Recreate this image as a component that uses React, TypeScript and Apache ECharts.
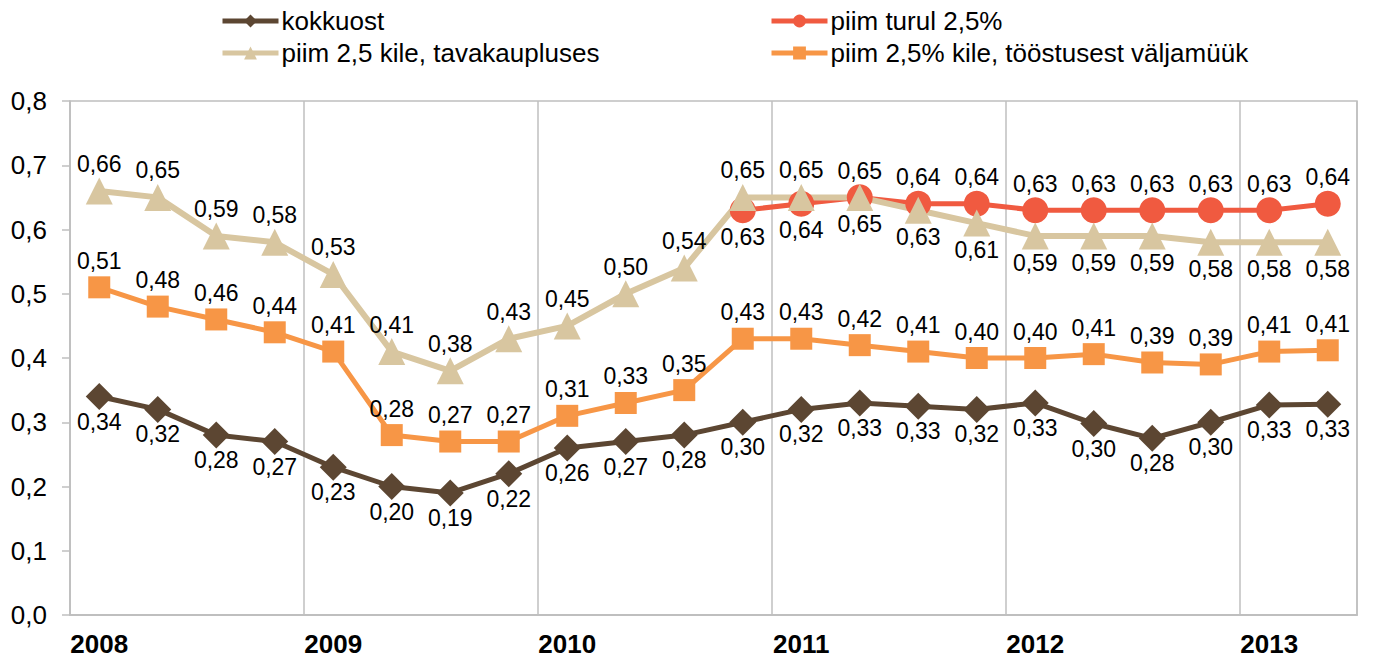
import React, { useEffect, useRef } from "react";
import * as echarts from "echarts";

const years = ["2008", "2009", "2010", "2011", "2012", "2013"];
const quarters = ["I", "II", "III", "IV"];
const categories: string[] = [];
years.forEach((y) => quarters.forEach((q) => categories.push(y + " " + q)));
categories.splice(22);

const kokkuost = [0.34, 0.32, 0.28, 0.27, 0.23, 0.2, 0.19, 0.22, 0.26, 0.27, 0.28, 0.3, 0.32, 0.33, 0.325, 0.32, 0.33, 0.298, 0.275, 0.3, 0.327, 0.328];
const piimTurul = [null, null, null, null, null, null, null, null, null, null, null, 0.63, 0.64, 0.65, 0.64, 0.64, 0.63, 0.63, 0.63, 0.63, 0.63, 0.64];
const piimTavakaupluses = [0.66, 0.65, 0.59, 0.58, 0.53, 0.41, 0.38, 0.43, 0.45, 0.5, 0.54, 0.65, 0.65, 0.65, 0.63, 0.61, 0.59, 0.59, 0.59, 0.58, 0.58, 0.58];
const piimTooStusest = [0.51, 0.48, 0.46, 0.44, 0.41, 0.28, 0.27, 0.27, 0.31, 0.33, 0.35, 0.43, 0.43, 0.42, 0.41, 0.4, 0.4, 0.406, 0.393, 0.39, 0.41, 0.412];

const seriesNames = [
  "kokkuost",
  "piim turul 2,5%",
  "piim 2,5 kile, tavakaupluses",
  "piim 2,5% kile, tööstusest väljamüük",
];

const FONT = "'Liberation Sans', Arial, sans-serif";

const fmt = (v: number) => v.toFixed(2).replace(".", ",");

export default function App() {
  const ref = useRef<HTMLDivElement>(null);
  useEffect(() => {
    document.body.style.margin = "0";
    if (!ref.current) return;
    const chart = echarts.init(ref.current, null, { renderer: "svg" });

    const labelBase = {
      show: true,
      color: "#000",
      fontSize: 23,
      fontFamily: FONT,
      formatter: (p: any) => (p.value == null ? "" : fmt(Number(p.value))),
    };

    const withPos = (vals: (number | null)[], posFn: (i: number) => string) =>
      vals.map((v, i) =>
        v == null ? null : { value: v, label: { position: posFn(i) } }
      );

    const legendBase = {
      top: 3,
      orient: "vertical",
      itemWidth: 56,
      itemHeight: 16,
      itemGap: 6,
      lineStyle: { width: 5 },
      textStyle: { fontSize: 26, color: "#000", fontFamily: FONT, padding: [0, 0, 0, -2] },
    };

    const option: any = {
      animation: false,
      backgroundColor: "#fff",
      textStyle: { fontFamily: FONT },
      legend: [
        { ...legendBase, left: 215, data: [seriesNames[0], seriesNames[2]] },
        { ...legendBase, left: 764, data: [seriesNames[1], seriesNames[3]] },
      ],
      grid: {
        left: 70,
        right: 22,
        top: 101,
        bottom: 47,
        show: true,
        borderColor: "#BFBFBF",
        borderWidth: 1.5,
      },
      xAxis: {
        type: "category",
        data: categories,
        boundaryGap: true,
        axisLine: { lineStyle: { color: "#BFBFBF", width: 2 } },
        axisTick: { show: false },
        axisLabel: {
          interval: 0,
          margin: 16,
          fontSize: 26,
          fontWeight: "bold",
          color: "#000",
          fontFamily: FONT,
          formatter: (v: string) => (v.endsWith(" I") ? v.slice(0, 4) : ""),
        },
        splitLine: {
          show: true,
          interval: (index: number) => index % 4 === 0,
          lineStyle: { color: "#BFBFBF", width: 1.5 },
        },
      },
      yAxis: {
        type: "value",
        min: 0,
        max: 0.8,
        interval: 0.1,
        axisLine: { show: true, lineStyle: { color: "#BFBFBF", width: 1.5 } },
        axisTick: { show: true, length: 8, lineStyle: { color: "#BFBFBF", width: 1.5 } },
        splitLine: { show: false },
        axisLabel: {
          margin: 23,
          fontSize: 26,
          color: "#000",
          fontFamily: FONT,
          formatter: (v: number) => v.toFixed(1).replace(".", ","),
        },
      },
      series: [
        {
          name: seriesNames[0],
          type: "line",
          data: withPos(kokkuost, () => "bottom"),
          symbol: "diamond",
          symbolSize: 27,
          color: "#5C4632",
          lineStyle: { width: 5, color: "#5C4632" },
          itemStyle: { color: "#5C4632" },
          label: { ...labelBase, distance: 0 },
        },
        {
          name: seriesNames[1],
          type: "line",
          data: withPos(piimTurul, (i) => (i < 13 ? "bottom" : "top")),
          symbol: "circle",
          symbolSize: 26,
          color: "#F05A40",
          lineStyle: { width: 5, color: "#F05A40" },
          itemStyle: { color: "#F05A40" },
          label: { ...labelBase, distance: 2 },
        },
        {
          name: seriesNames[2],
          type: "line",
          data: withPos(piimTavakaupluses, (i) => (i < 13 ? "top" : "bottom")),
          symbol: "triangle",
          symbolSize: 27,
          color: "#D8C6A0",
          lineStyle: { width: 6, color: "#D8C6A0" },
          itemStyle: { color: "#D8C6A0" },
          label: { ...labelBase, distance: 2 },
        },
        {
          name: seriesNames[3],
          type: "line",
          data: withPos(piimTooStusest, () => "top"),
          symbol: "rect",
          symbolSize: 22,
          color: "#F79646",
          lineStyle: { width: 5, color: "#F79646" },
          itemStyle: { color: "#F79646" },
          label: { ...labelBase, distance: 4 },
        },
      ],
    };
    chart.setOption(option);
    return () => chart.dispose();
  }, []);
  return <div ref={ref} style={{ width: 1379, height: 662 }} />;
}
